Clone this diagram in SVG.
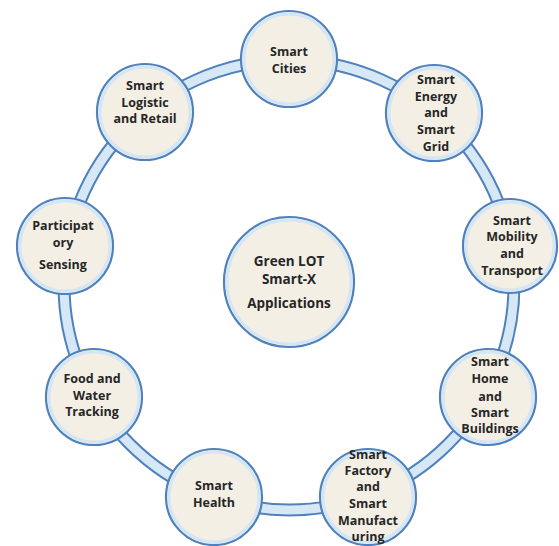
<svg xmlns="http://www.w3.org/2000/svg" width="559" height="546" viewBox="0 0 559 546">
<style>
.bandO{fill:none;stroke:#4F81BD;stroke-width:13}
.bandI{fill:none;stroke:#D6E7F5;stroke-width:9}
.node{fill:#F3EFE5;stroke:#4F81BD;stroke-width:2.2}
.halo{fill:none;stroke:#D3E6F6;stroke-width:3}
text{font-family:"Open Sans",Lato,"Liberation Sans",sans-serif;font-weight:bold;font-size:12.5px;fill:#262626;text-anchor:middle}
.big{font-size:13.5px}
</style>
<rect width="559" height="546" fill="#ffffff"/>
<g id="connectors">
<ellipse class="bandO" cx="289" cy="285" rx="225" ry="225"/>
<ellipse class="bandI" cx="289" cy="285" rx="225" ry="225"/>
</g>
<g id="cities">
<circle class="node" cx="289" cy="59" r="48"/><circle class="halo" cx="289" cy="59" r="45"/>
<text x="289" y="56">Smart</text><text x="289" y="73">Cities</text>
</g>
<g id="energy">
<circle class="node" cx="434" cy="113" r="48"/><circle class="halo" cx="434" cy="113" r="45"/>
<text x="436" y="84">Smart</text><text x="436" y="101">Energy</text><text x="436" y="117">and</text><text x="436" y="134">Smart</text><text x="436" y="151">Grid</text>
</g>
<g id="mobility">
<circle class="node" cx="510" cy="246" r="47"/><circle class="halo" cx="510" cy="246" r="44"/>
<text x="512" y="225">Smart</text><text x="512" y="241">Mobility</text><text x="512" y="258">and</text><text x="512" y="275">Transport</text>
</g>
<g id="home">
<circle class="node" cx="488" cy="397" r="48"/><circle class="halo" cx="488" cy="397" r="45"/>
<text x="490" y="366">Smart</text><text x="490" y="383">Home</text><text x="490" y="401">and</text><text x="490" y="417">Smart</text><text x="490" y="433">Buildings</text>
</g>
<g id="factory">
<circle class="node" cx="368" cy="497" r="48"/><circle class="halo" cx="368" cy="497" r="45"/>
<text x="368" y="459">Smart</text><text x="368" y="475">Factory</text><text x="368" y="491">and</text><text x="368" y="508">Smart</text><text x="368" y="525">Manufact</text><text x="368" y="541">uring</text>
</g>
<g id="health">
<circle class="node" cx="214" cy="497" r="48"/><circle class="halo" cx="214" cy="497" r="45"/>
<text x="214" y="490">Smart</text><text x="214" y="507">Health</text>
</g>
<g id="food">
<circle class="node" cx="94" cy="397" r="48"/><circle class="halo" cx="94" cy="397" r="45"/>
<text x="92" y="383">Food and</text><text x="92" y="400">Water</text><text x="92" y="416">Tracking</text>
</g>
<g id="participatory">
<circle class="node" cx="65" cy="246" r="48"/><circle class="halo" cx="65" cy="246" r="45"/>
<text x="63" y="230">Participat</text><text x="63" y="247">ory</text><text x="63" y="269">Sensing</text>
</g>
<g id="logistic">
<circle class="node" cx="145" cy="112" r="48"/><circle class="halo" cx="145" cy="112" r="45"/>
<text x="145" y="90">Smart</text><text x="145" y="107">Logistic</text><text x="145" y="123">and Retail</text>
</g>
<g id="center">
<circle class="node" cx="289" cy="282" r="65"/><circle class="halo" cx="289" cy="282" r="62"/>
<text class="big" x="289" y="266">Green LOT</text><text class="big" x="289" y="284">Smart-X</text><text class="big" x="289" y="308">Applications</text>
</g>
</svg>
